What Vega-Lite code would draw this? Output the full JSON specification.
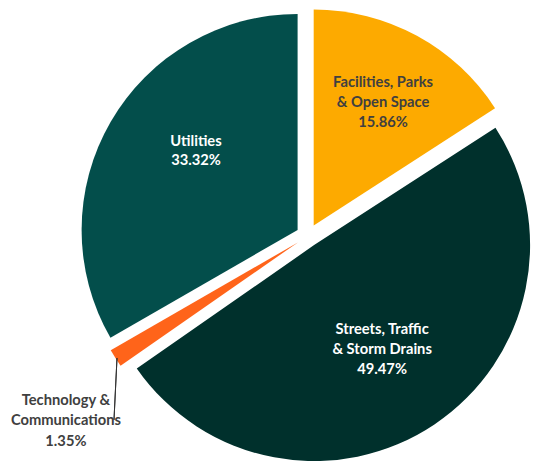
{
  "$schema": "https://vega.github.io/schema/vega-lite/v6.json",
  "width": 432,
  "height": 432,
  "autosize": {"type": "none"},
  "padding": {"left": 92, "top": 20, "right": 9, "bottom": 9},
  "background": "white",
  "config": {"view": {"stroke": null}},
  "data": {
    "values": [
      {"idx": 1, "category": "Facilities, Parks & Open Space", "label": "Facilities, Parks\n& Open Space\n15.86%", "value": 15.86},
      {"idx": 2, "category": "Streets, Traffic & Storm Drains", "label": "Streets, Traffic\n& Storm Drains\n49.47%", "value": 49.47},
      {"idx": 3, "category": "Technology & Communications", "label": "Technology &\nCommunications\n1.35%", "value": 1.35},
      {"idx": 4, "category": "Utilities", "label": "Utilities\n33.32%", "value": 33.32}
    ]
  },
  "layer": [
    {
      "transform": [
        {"stack": "value", "groupby": [], "sort": [{"field": "idx"}], "as": ["s0", "s1"]},
        {"filter": "datum.idx === 1"}
      ],
      "mark": {"type": "arc", "outerRadius": 216, "xOffset": 5.7, "yOffset": -10.5, "color": "#FDAA00"},
      "encoding": {
        "theta": {"field": "s0", "type": "quantitative", "scale": {"domain": [0, 100]}},
        "theta2": {"field": "s1"}
      }
    },
    {
      "transform": [
        {"stack": "value", "groupby": [], "sort": [{"field": "idx"}], "as": ["s0", "s1"]},
        {"filter": "datum.idx === 2"}
      ],
      "mark": {"type": "arc", "outerRadius": 216, "xOffset": 6.1, "yOffset": 9.1, "color": "#00302C"},
      "encoding": {
        "theta": {"field": "s0", "type": "quantitative", "scale": {"domain": [0, 100]}},
        "theta2": {"field": "s1"}
      }
    },
    {
      "transform": [
        {"stack": "value", "groupby": [], "sort": [{"field": "idx"}], "as": ["s0", "s1"]},
        {"filter": "datum.idx === 3"}
      ],
      "mark": {"type": "arc", "outerRadius": 216, "xOffset": -10.1, "yOffset": 6.4, "color": "#FF641A"},
      "encoding": {
        "theta": {"field": "s0", "type": "quantitative", "scale": {"domain": [0, 100]}},
        "theta2": {"field": "s1"}
      }
    },
    {
      "transform": [
        {"stack": "value", "groupby": [], "sort": [{"field": "idx"}], "as": ["s0", "s1"]},
        {"filter": "datum.idx === 4"}
      ],
      "mark": {"type": "arc", "outerRadius": 216, "xOffset": -10.4, "yOffset": -6, "color": "#034E4B"},
      "encoding": {
        "theta": {"field": "s0", "type": "quantitative", "scale": {"domain": [0, 100]}},
        "theta2": {"field": "s1"}
      }
    },
    {
      "transform": [
        {"stack": "value", "groupby": [], "sort": [{"field": "idx"}], "as": ["s0", "s1"]},
        {"filter": "datum.idx === 3"}
      ],
      "mark": {"type": "arc", "innerRadius": 10, "outerRadius": 72, "thetaOffset": -0.9144, "theta2Offset": -0.9144, "xOffset": -190.5, "yOffset": 112, "fillOpacity": 0, "stroke": "#333333", "strokeWidth": 1},
      "encoding": {
        "theta": {"field": "s0", "type": "quantitative", "scale": {"domain": [0, 100]}},
        "theta2": {"field": "s0"}
      }
    },
    {
      "mark": {"type": "text", "radius": 140.7, "xOffset": 5.7, "yOffset": -30.5, "font": "Lato", "fontWeight": "bold", "fontSize": 14.7, "lineHeight": 20, "lineBreak": "\n", "color": "#404040", "align": "center", "baseline": "middle"},
      "encoding": {
        "theta": {"field": "value", "type": "quantitative", "stack": true, "bandPosition": 0.517, "scale": {"domain": [0, 100]}},
        "order": {"field": "idx"},
        "text": {"condition": {"test": "datum.idx === 1", "field": "label"}, "value": ""}
      }
    },
    {
      "mark": {"type": "text", "radius": 125, "xOffset": 6.1, "yOffset": -10.9, "font": "Lato", "fontWeight": "bold", "fontSize": 14.7, "lineHeight": 20, "lineBreak": "\n", "color": "#FFFFFF", "align": "center", "baseline": "middle"},
      "encoding": {
        "theta": {"field": "value", "type": "quantitative", "stack": true, "bandPosition": 0.505, "scale": {"domain": [0, 100]}},
        "order": {"field": "idx"},
        "text": {"condition": {"test": "datum.idx === 2", "field": "label"}, "value": ""}
      }
    },
    {
      "mark": {"type": "text", "radius": 290, "xOffset": 2.8, "yOffset": 9.6, "font": "Lato", "fontWeight": "bold", "fontSize": 14.7, "lineHeight": 20.5, "lineBreak": "\n", "color": "#404040", "align": "center", "baseline": "middle"},
      "encoding": {
        "theta": {"field": "value", "type": "quantitative", "stack": true, "bandPosition": 0.5, "scale": {"domain": [0, 100]}},
        "order": {"field": "idx"},
        "text": {"condition": {"test": "datum.idx === 3", "field": "label"}, "value": ""}
      }
    },
    {
      "mark": {"type": "text", "radius": 128.4, "xOffset": -10.4, "yOffset": -15, "font": "Lato", "fontWeight": "bold", "fontSize": 14.7, "lineHeight": 19, "lineBreak": "\n", "color": "#FFFFFF", "align": "center", "baseline": "middle"},
      "encoding": {
        "theta": {"field": "value", "type": "quantitative", "stack": true, "bandPosition": 0.564, "scale": {"domain": [0, 100]}},
        "order": {"field": "idx"},
        "text": {"condition": {"test": "datum.idx === 4", "field": "label"}, "value": ""}
      }
    }
  ]
}
